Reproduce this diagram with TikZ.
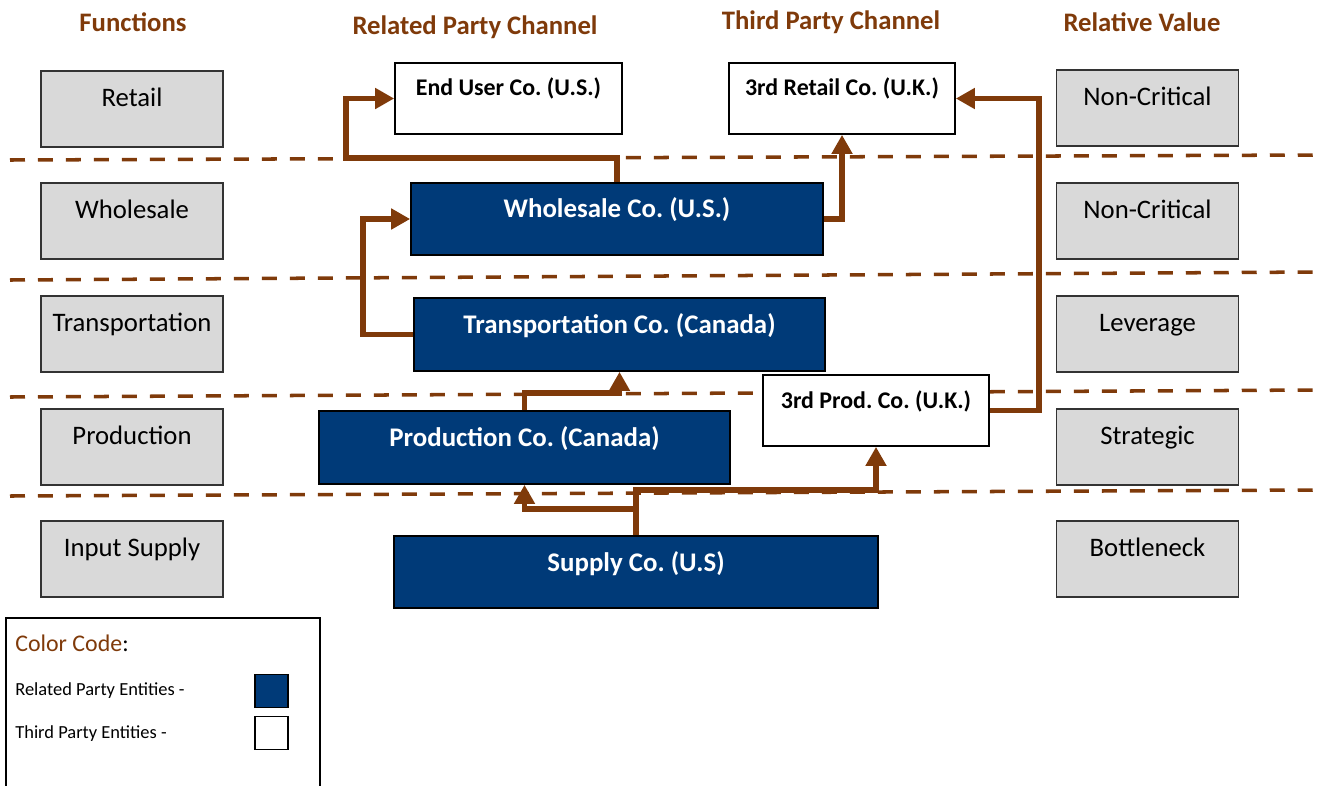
\documentclass[tikz,border=0pt]{standalone}
\usepackage{fontspec}
\setmainfont{Carlito}
\usetikzlibrary{arrows.meta}
\definecolor{chanbrown}{HTML}{7F3A0A}
\definecolor{chanblue}{HTML}{003A78}
\definecolor{boxgray}{HTML}{D9D9D9}
\frenchspacing

\begin{document}
\begin{tikzpicture}[x=0.02cm, y=-0.02cm,
        header/.style={text=chanbrown, font=\bfseries\fontsize{15.2}{18}\selectfont},
        funcbox/.style={draw=black!80, fill=boxgray, line width=0.8pt, inner sep=0pt,
            minimum width=3.64cm, text height=0.70cm, text depth=0.82cm,
            font=\fontsize{15.2}{18}\selectfont},
        rpbox/.style={draw=black, fill=chanblue, text=white, line width=1pt, inner sep=0pt,
            text height=0.70cm, text depth=0.76cm, font=\bfseries\fontsize{15.3}{18}\selectfont},
        tpbox/.style={draw=black, fill=white, line width=1pt, inner sep=0pt,
            minimum width=4.52cm, text height=0.64cm, text depth=0.78cm,
            font=\bfseries\fontsize{13.6}{16}\selectfont},
        legtext/.style={anchor=west, inner sep=0pt, font=\fontsize{10.5}{12}\selectfont},
        legkey/.style={draw=black, line width=1pt, inner sep=0pt, minimum size=0.66cm},
        flow/.style={draw=chanbrown, line width=3.4pt, -{Triangle[length=0.38cm, width=0.40cm]}},
        divider/.style={draw=chanbrown, line width=2pt, dash pattern=on 0.3cm off 0.26cm}]
        \useasboundingbox (0,0) rectangle (1317,785);

        % Column headers
        \node[header] (hfunc)  at ( 133, 22) {Functions};
        \node[header] (hrel)   at ( 475, 27) {Related Party Channel};
        \node[header] (hthird) at ( 831, 22) {Third Party Channel};
        \node[header] (hvalue) at (1142, 22) {Relative Value};

        % Level dividers
        \draw[divider] (10,160) -- (1317,155);
        \draw[divider] (10,280) -- (1317,272);
        \draw[divider] (10,397) -- (1317,390);
        \draw[divider] (10,496) -- (1317,490);

        % Functions
        \node[funcbox] (fretail)    at (132,109) {Retail};
        \node[funcbox] (fwholesale) at (132,221) {Wholesale};
        \node[funcbox] (ftransport) at (132,334) {Transportation};
        \node[funcbox] (fprod)      at (132,447) {Production};
        \node[funcbox] (fsupply)    at (132,559) {Input Supply};

        % Relative value
        \node[funcbox] (vretail)    at (1147.5,108) {Non-Critical};
        \node[funcbox] (vwholesale) at (1147.5,221) {Non-Critical};
        \node[funcbox] (vtransport) at (1147.5,334) {Leverage};
        \node[funcbox] (vprod)      at (1147.5,447) {Strategic};
        \node[funcbox] (vsupply)    at (1147.5,559) {Bottleneck};

        % Related party entities
        \node[rpbox, minimum width=8.24cm, text height=0.68cm] (wholesale) at (617,219) {Wholesale Co. (U.S.)};
        \node[rpbox, minimum width=8.22cm] (transport)  at (619.5,334.5) {Transportation Co. (Canada)};
        \node[rpbox, minimum width=8.22cm] (production) at (524.5,447.5) {Production Co. (Canada)};
        \node[rpbox, minimum width=9.68cm, text depth=0.74cm] (supply) at (636,572) {Supply Co. (U.S)};

        % Third party entities
        \node[tpbox, minimum width=4.54cm] (enduser) at (508.5,98.5) {End User Co. (U.S.)};
        \node[tpbox] (retail3) at (842,98.5) {3rd Retail Co. (U.K.)};
        \node[tpbox, text height=0.66cm, text depth=0.76cm] (prod3) at (876,410.5) {3rd Prod. Co. (U.K.)};

        % Flows
        \draw[flow] (wholesale.north) |- (346,158) |- (enduser.west);
        \draw[flow] (transport.west) -- ++(-50,0) |- (wholesale.west);
        \draw[flow] (wholesale.east) -| (retail3.south);
        \draw[flow] (production.north) -- ++(0,-17) -| (transport.south);
        \draw[flow] (supply.north) -- ++(0,-26) -| (production.south);
        \draw[flow] (supply.north) -- ++(0,-45) -| (prod3.south);
        \draw[flow] (prod3.east) -- ++(49,0) |- (retail3.east);

        % Legend
        \draw[line width=0.8pt] (6,618) rectangle (320,800);
        \node[legtext, font=\fontsize{13.6}{16}\selectfont] (ccode) at (15,643) {\textcolor{chanbrown}{Color Code}:};
        \node[legtext] (lrel)   at (15,691) {Related Party Entities -};
        \node[legtext] (lthird) at (15,734) {Third Party Entities -};
        \node[legkey, fill=chanblue] (lrelkey)   at (271.5,691) {};
        \node[legkey, fill=white]    (lthirdkey) at (271.5,733) {};
\end{tikzpicture}
\end{document}
